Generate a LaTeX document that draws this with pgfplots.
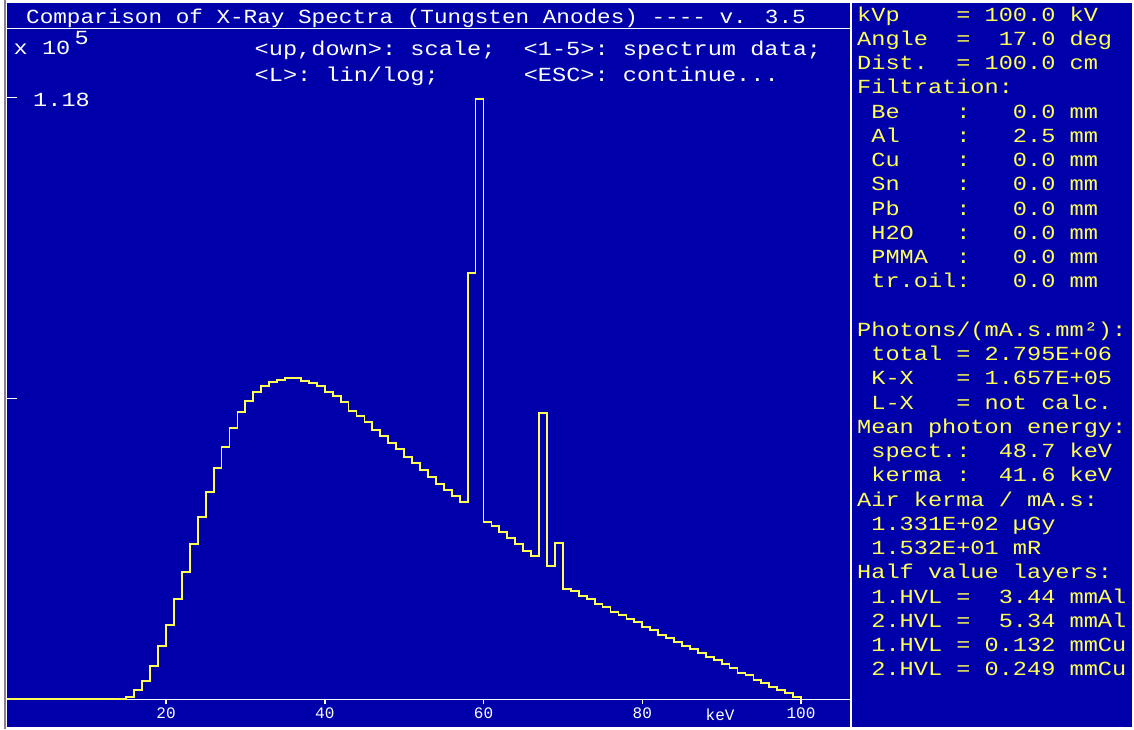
\documentclass[border=0pt]{standalone}
\usepackage{fontspec}
\usepackage{pgfplots}
\pgfplotsset{compat=1.18}
\newfontfamily\dosT{Liberation Mono}[FakeStretch=1.133]
\newfontfamily\dosB{Liberation Mono}[FakeStretch=1.18]
\newfontfamily\dosS{Liberation Mono}
\newcommand\titlefont{\dosT\fontsize{20}{24}\selectfont}
\newcommand\bigfont{\dosB\fontsize{20}{24}\selectfont}
\newcommand\smallfont{\dosS\fontsize{16}{19}\selectfont}
\definecolor{dosblue}{HTML}{0000AA}
\definecolor{dosyellow}{HTML}{FFFF55}
\definecolor{dosgrey}{HTML}{8A7F9A}
\begin{document}
\begin{tikzpicture}[x=1pt,y=1pt]
\useasboundingbox (0,0) rectangle (1134,729);
\fill[white] (0,0) rectangle (1134,729);
\draw[dosgrey, line width=1.5pt] (4.8,0) -- (4.8,729);
% panels
\fill[dosblue] (7.3,701.3) rectangle (850,725.7);
\fill[dosblue] (7.3,2.5) rectangle (850,699.7);
\fill[dosblue] (852.3,2.5) rectangle (1132,725.7);
\begin{axis}[
  at={(7.25pt,2.5pt)}, anchor=south west,
  scale only axis, width=842.75pt, height=697.2pt,
  xmin=0, xmax=106.17, ymin=-0.0533, ymax=1.3133,
  axis x line*=middle, axis y line=none,
  axis line style={white, line width=1.5pt},
  xtick={20,40,60,80,100}, ytick=\empty,
  tick align=outside, major tick length=5pt,
  tick style={white, line width=1.5pt},
  /pgf/number format/assume math mode=true,
  xticklabel style={font=\smallfont, text=white},
  clip=false,
]
\draw[white, line width=1.5pt] (axis cs:0,0.59) -- ([xshift=10pt]axis cs:0,0.59);
\draw[white, line width=1.5pt] (axis cs:0,1.18) -- ([xshift=10pt]axis cs:0,1.18);
\addplot[const plot, dosyellow, line width=1.8pt] table {
x y
0 0
15 0.0051
16 0.0182
17 0.0359
18 0.0653
19 0.1045
20 0.1456
21 0.1960
22 0.2495
23 0.3038
24 0.3567
25 0.4063
26 0.4539
27 0.4951
28 0.5312
29 0.5637
30 0.5847
31 0.6023
32 0.6147
33 0.6225
34 0.6264
35 0.6292
36 0.6292
37 0.6245
38 0.6194
39 0.6147
40 0.6023
41 0.5945
42 0.5821
43 0.5657
44 0.5553
45 0.5435
46 0.5284
47 0.5167
48 0.5018
49 0.4900
50 0.4749
51 0.4632
52 0.4494
53 0.4363
54 0.4220
55 0.4102
56 0.3985
57 0.3861
58 0.8350
59 1.1760
60 0.3469
61 0.3397
62 0.3279
63 0.3156
64 0.3038
65 0.2913
66 0.2815
67 0.5617
68 0.2613
69 0.3058
70 0.2162
71 0.2117
72 0.2025
73 0.1960
74 0.1868
75 0.1809
76 0.1717
77 0.1658
78 0.1580
79 0.1509
80 0.1417
81 0.1358
82 0.1266
83 0.1201
84 0.1117
85 0.1051
86 0.0980
87 0.0913
88 0.0835
89 0.0770
90 0.0686
91 0.0619
92 0.0521
93 0.0476
94 0.0378
95 0.0325
96 0.0241
97 0.0182
98 0.0118
99 0.0051
100 0
};
\end{axis}
% left panel texts
\begin{scope}[every node/.style={anchor=base west, inner sep=0pt, text=white}]
\node[font=\titlefont] at (26,705.7) {Comparison of X-Ray Spectra (Tungsten Anodes) ---- v. 3.5};
\node[font=\bigfont] at (13.5,674) {x~10};
\node[font=\bigfont] at (74.5,684) {5};
\node[font=\bigfont] at (254.5,673) {<up,down>:~scale;~~<1-5>:~spectrum~data;};
\node[font=\bigfont] at (254.5,647.5) {<L>:~lin/log;~~~~~~<ESC>:~continue...};
\node[font=\bigfont] at (33,622.3) {1.18};
\node[font=\smallfont] at (705.5,8.3) {keV};
\end{scope}
% right panel texts
\begin{scope}[every node/.style={anchor=base west, inner sep=0pt, text=dosyellow, font=\bigfont}]
\node at (857,707.8) {kVp~~~~=~100.0~kV};
\node at (857,683.55) {Angle~~=~~17.0~deg};
\node at (857,659.3) {Dist.~~=~100.0~cm};
\node at (857,635.05) {Filtration:};
\node at (857,610.8) {~Be~~~~:~~~0.0~mm};
\node at (857,586.55) {~Al~~~~:~~~2.5~mm};
\node at (857,562.3) {~Cu~~~~:~~~0.0~mm};
\node at (857,538.05) {~Sn~~~~:~~~0.0~mm};
\node at (857,513.8) {~Pb~~~~:~~~0.0~mm};
\node at (857,489.55) {~H2O~~~:~~~0.0~mm};
\node at (857,465.3) {~PMMA~~:~~~0.0~mm};
\node at (857,441.05) {~tr.oil:~~~0.0~mm};
\node at (857,392.55) {Photons/(mA.s.mm²):};
\node at (857,368.3) {~total~=~2.795E+06};
\node at (857,344.05) {~K-X~~~=~1.657E+05};
\node at (857,319.8) {~L-X~~~=~not~calc.};
\node at (857,295.55) {Mean~photon~energy:};
\node at (857,271.3) {~spect.:~~48.7~keV};
\node at (857,247.05) {~kerma~:~~41.6~keV};
\node at (857,222.8) {Air~kerma~/~mA.s:};
\node at (857,198.55) {~1.331E+02~µGy};
\node at (857,174.3) {~1.532E+01~mR};
\node at (857,150.05) {Half~value~layers:};
\node at (857,125.8) {~1.HVL~=~~3.44~mmAl};
\node at (857,101.55) {~2.HVL~=~~5.34~mmAl};
\node at (857,77.3) {~1.HVL~=~0.132~mmCu};
\node at (857,53.05) {~2.HVL~=~0.249~mmCu};
\end{scope}
\end{tikzpicture}
\end{document}
